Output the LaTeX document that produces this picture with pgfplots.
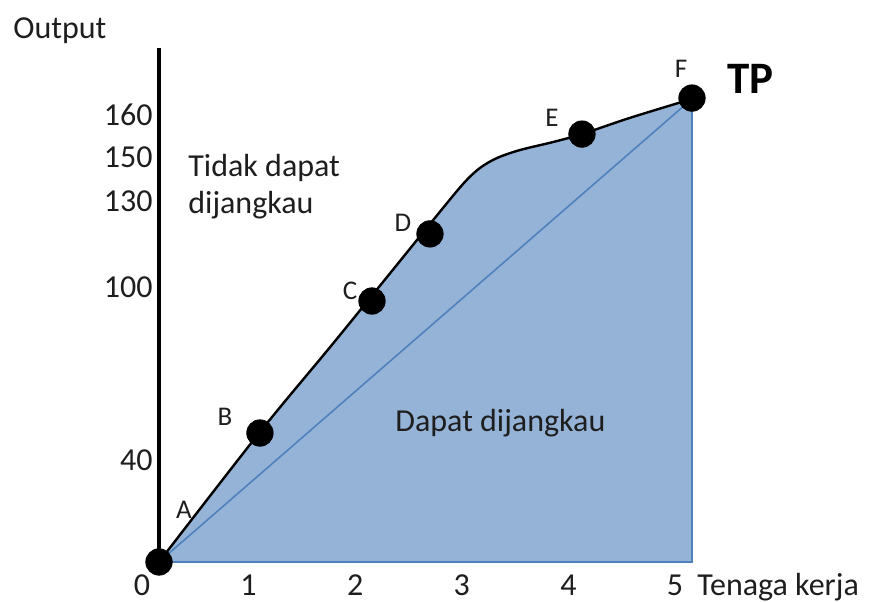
\documentclass[border=0pt]{standalone}
\usepackage{pgfplots}
\pgfplotsset{compat=1.18}
\usepackage{fontspec}
\setmainfont{Carlito}
\definecolor{fillblue}{RGB}{149,179,215}
\definecolor{edgeblue}{RGB}{79,129,189}
\definecolor{txt}{RGB}{30,30,30}
\begin{document}
\begin{tikzpicture}
\begin{axis}[
  scale only axis, width=266.5pt, height=257pt,
  xmin=0, xmax=5, ymin=0, ymax=186.909,
  axis x line=bottom, axis y line=left,
  x axis line style={draw=none},
  y axis line style={-, line width=2pt, black},
  clip=false,
  major tick length=0pt, tick style={draw=none},
  xtick={0,1,2,3,4,5}, xticklabels={0,1,2,3,4,5},
  ytick={37.1,100,131.3,147.3,162.5}, yticklabels={40,100,130,150,160},
  xticklabel style={anchor=base, inner sep=0pt, yshift=-16.8pt, xshift=-8.5pt, font=\fontsize{16}{19}\selectfont, text=txt},
  yticklabel style={anchor=east, inner sep=0pt, xshift=-3pt, font=\fontsize{16}{19}\selectfont, text=txt},
]
% area under TP
\addplot[fill=fillblue, draw=none, smooth, tension=0.5] coordinates {
 (0,0) (0.947,47.27) (1.660,80.73) (2.542,122.9) (2.852,137.45) (3.011,143.27)
 (3.171,146.9) (3.386,149.8) (3.696,152.7) (3.968,155.6) (4.418,161.5) (5,168.4)
} \closedcycle;
% bottom and right edges
\addplot[edgeblue, line width=1pt] coordinates {(0,0) (5,0) (5,168.4)};
% diagonal
\addplot[edgeblue, line width=0.8pt] coordinates {(0,0) (5,168.4)};
% TP curve
\addplot[black, line width=1.2pt, smooth, tension=0.5] coordinates {
 (0,0) (0.947,47.27) (1.660,80.73) (2.542,122.9) (2.852,137.45) (3.011,143.27)
 (3.171,146.9) (3.386,149.8) (3.696,152.7) (3.968,155.6) (4.418,161.5) (5,168.4)
};
% points A-F
\addplot[only marks, mark=*, mark size=6.6pt, black] coordinates {
 (0,0) (0.947,46.9) (1.998,94.9) (2.542,119.3) (3.968,155.6) (5,168.7)
};
\begin{scope}[every node/.style={inner sep=0pt, text=txt}]
\node[anchor=base, font=\fontsize{13.5}{16}\selectfont] at (axis cs:0.2345,15.64) {A};
\node[anchor=base, font=\fontsize{13.5}{16}\selectfont] at (axis cs:0.619,49.45) {B};
\node[anchor=base, font=\fontsize{13.5}{16}\selectfont] at (axis cs:1.792,95.27) {C};
\node[anchor=base, font=\fontsize{13.5}{16}\selectfont] at (axis cs:2.289,120.0) {D};
\node[anchor=base, font=\fontsize{13.5}{16}\selectfont] at (axis cs:3.687,158.2) {E};
\node[anchor=base, font=\fontsize{13.5}{16}\selectfont] at (axis cs:4.897,176.0) {F};
\node[anchor=base west, font=\fontsize{22.5}{26}\selectfont\bfseries, text=black] at (axis cs:5.328,170.5) {TP};
\node[anchor=base west, font=\fontsize{16}{19}\selectfont] at (axis cs:2.214,47.27) {Dapat dijangkau};
\node[anchor=base west, font=\fontsize{16}{19}\selectfont] at (axis cs:0.272,140.0) {Tidak dapat};
\node[anchor=base west, font=\fontsize{16}{19}\selectfont] at (axis cs:0.272,126.9) {dijangkau};
\node[anchor=base west, font=\fontsize{16}{19}\selectfont] at (axis cs:-1.370,190.5) {Output};
\node[anchor=base west, font=\fontsize{16}{19}\selectfont] at (axis cs:5.047,-12.3) {Tenaga kerja};
\end{scope}
\coordinate (bbl) at (axis cs:-1.4916,-14.545);
\coordinate (btr) at (axis cs:6.670,204.36);
\end{axis}
\pgfresetboundingbox
\path[use as bounding box] (bbl) rectangle (btr);
\end{tikzpicture}
\end{document}
